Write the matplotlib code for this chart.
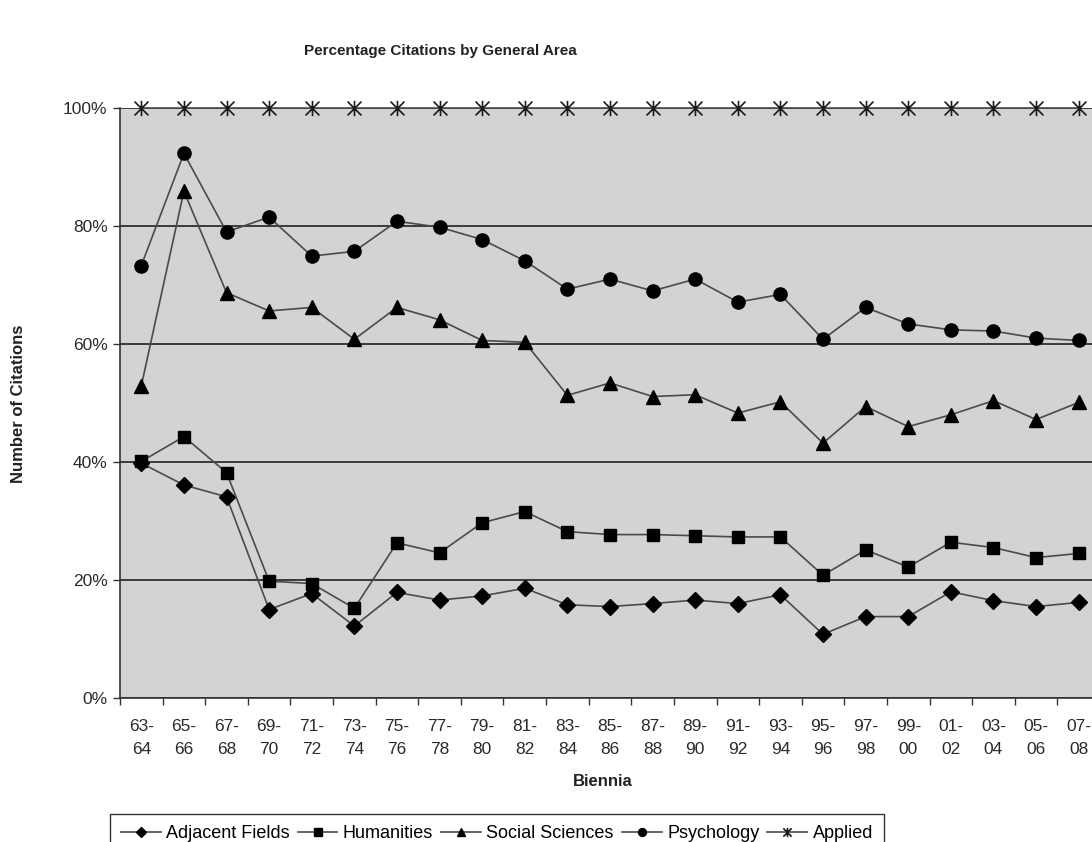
import numpy as np
import matplotlib
matplotlib.use("Agg")
import matplotlib.pyplot as plt
from matplotlib.path import Path

plt.rcParams['font.family'] = ['Liberation Sans', 'DejaVu Sans']

# Biennia labels
biennia = ["63-\n64", "65-\n66", "67-\n68", "69-\n70", "71-\n72", "73-\n74",
           "75-\n76", "77-\n78", "79-\n80", "81-\n82", "83-\n84", "85-\n86",
           "87-\n88", "89-\n90", "91-\n92", "93-\n94", "95-\n96", "97-\n98",
           "99-\n00", "01-\n02", "03-\n04", "05-\n06", "07-\n08"]

# Cumulative percentages
adjacent = [39.8, 36.1, 34.1, 15.0, 17.7, 12.2, 17.9, 16.6, 17.3, 18.6, 15.8, 15.5,
            16.0, 16.6, 16.0, 17.5, 10.8, 13.8, 13.8, 18.0, 16.5, 15.5, 16.2]
humanities = [40.1, 44.3, 38.2, 19.8, 19.4, 15.2, 26.3, 24.6, 29.7, 31.6, 28.2, 27.7,
              27.7, 27.5, 27.3, 27.3, 20.8, 25.1, 22.2, 26.4, 25.5, 23.8, 24.5]
social = [52.9, 85.9, 68.7, 65.6, 66.2, 60.8, 66.2, 64.1, 60.6, 60.3, 51.3, 53.4,
          51.1, 51.4, 48.3, 50.2, 43.2, 49.4, 46.0, 48.0, 50.4, 47.2, 50.1]
psychology = [73.3, 92.3, 79.0, 81.5, 74.9, 75.7, 80.8, 79.8, 77.7, 74.1, 69.3, 71.0,
              69.0, 71.0, 67.1, 68.4, 60.8, 66.2, 63.4, 62.4, 62.2, 61.0, 60.6]
applied = [100] * 23

# Excel-style star: an X with a vertical bar through it
star = Path([(-1, -1), (1, 1), (-1, 1), (1, -1), (0, -1.1), (0, 1.1)],
            [Path.MOVETO, Path.LINETO, Path.MOVETO, Path.LINETO, Path.MOVETO, Path.LINETO])

fig = plt.figure(figsize=(10.92, 8.42), dpi=100)
ax = fig.add_axes([120 / 1092, 1 - 698 / 842, 980 / 1092, 590 / 842])
ax.set_facecolor('#d3d3d3')

x = np.arange(len(biennia))
line_col = '#4a4a4a'

ax.plot(x, adjacent, color=line_col, lw=1.2, marker='D', ms=8.5, mfc='black', mec='black',
        label='Adjacent Fields', zorder=5)
ax.plot(x, humanities, color=line_col, lw=1.2, marker='s', ms=8.5, mfc='black', mec='black',
        label='Humanities', zorder=5)
ax.plot(x, social, color=line_col, lw=1.2, marker='^', ms=10, mfc='black', mec='black',
        label='Social Sciences', zorder=5)
ax.plot(x, psychology, color=line_col, lw=1.2, marker='o', ms=9.5, mfc='black', mec='black',
        label='Psychology', zorder=5)
ax.plot(x, applied, color=line_col, lw=1.2, marker=star, ms=11, mfc='none', mec='#1a1a1a',
        mew=1.2, label='Applied', zorder=5, clip_on=False)

ax.set_xlim(-0.5, len(biennia) - 0.5)
ax.set_ylim(0, 100)

# y axis
ax.set_yticks([0, 20, 40, 60, 80, 100])
ax.set_yticklabels(['0%', '20%', '40%', '60%', '80%', '100%'])
ax.yaxis.grid(True, color='#3a3a3a', lw=1.4)
ax.set_axisbelow(True)
ax.tick_params(axis='y', length=5, width=1, color='#333333', pad=4, labelsize=12.5,
               labelcolor='#2a2a2a')

# x axis: ticks between categories, labels at centers
ax.set_xticks(np.arange(-0.5, len(biennia), 1))
ax.set_xticklabels([])
ax.tick_params(axis='x', which='major', length=5, width=1, color='#333333')
ax.set_xticks(x, minor=True)
ax.set_xticklabels(biennia, minor=True, fontsize=12.5, color='#2a2a2a', linespacing=1.65)
ax.tick_params(axis='x', which='minor', length=0, pad=15)

for side in ['top', 'right']:
    ax.spines[side].set_visible(False)
ax.spines['left'].set_color('#333333')
ax.spines['bottom'].set_color('#333333')
ax.spines['left'].set_linewidth(1.2)
ax.spines['bottom'].set_linewidth(1.2)

fig.text(440 / 1092, 1 - 51 / 842, 'Percentage Citations by General Area', ha='center',
         va='center', fontsize=11, fontweight='bold', color='#222222')
fig.text(19 / 1092, 1 - 404 / 842, 'Number of Citations', rotation=90, ha='center',
         va='center', fontsize=12, fontweight='bold', color='#222222')
fig.text(603 / 1092, 1 - 781 / 842, 'Biennia', ha='center', va='center', fontsize=12,
         fontweight='bold', color='#222222')

leg = fig.legend(loc='upper left', bbox_to_anchor=(110 / 1092, 1 - 814 / 842), ncol=5,
                 fontsize=13, frameon=True, fancybox=False, edgecolor='black',
                 handlelength=2.2, handletextpad=0.3, columnspacing=0.45, markerscale=0.6,
                 borderpad=0.6, borderaxespad=0)
leg.get_frame().set_linewidth(1.0)

fig.savefig('out.png', dpi=100)
